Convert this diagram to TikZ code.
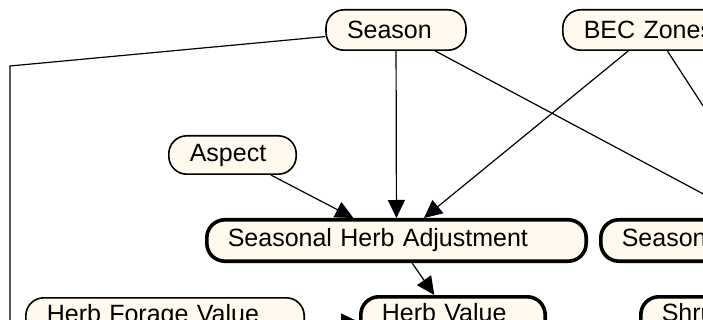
\documentclass[tikz,border=0pt]{standalone}
\usepackage{fontspec}
\setmainfont{Liberation Sans}
\usepackage{xcolor}
\usetikzlibrary{arrows.meta}
\definecolor{nodecream}{HTML}{FFF9EE}
\tikzset{
  varnode/.style={draw=black,fill=nodecream,rounded corners=18pt,line width=1.6pt,
    minimum height=40.4pt,inner xsep=21pt,inner ysep=0pt,align=left,
    font=\fontsize{25}{30}\selectfont},
  adjnode/.style={varnode,line width=3.6pt,minimum height=41.4pt},
  diredge/.style={-{Triangle[length=18pt,width=17pt]},line width=1.2pt,black},
  plainedge/.style={line width=1.2pt,black},
}

\begin{document}
\begin{tikzpicture}[x=1pt,y=-1pt]
  \useasboundingbox (0,0) rectangle (703,320);
  \clip (0,0) rectangle (703,320);
  \node[varnode,text width=98pt] (nSeason) at (396,30) {Season};
  \node[varnode,text width=140pt] (nBEC) at (653.8,30) {BEC Zones};
  \node[varnode,text width=85.4pt,minimum height=38.4pt] (nAspect) at (232.5,155) {Aspect};
  \node[adjnode,text width=337.4pt] (nSHA) at (396.5,240.5) {Seasonal Herb Adjustment};
  \node[adjnode,text width=337.4pt] (nSSA) at (790.5,240.5) {Seasonal Shrub Adjustment};
  \node[varnode,text width=236.4pt,minimum height=48.4pt,text depth=18pt] (nHFV) at (165,322) {Herb Forage Value};
  \node[adjnode,text width=142.4pt,minimum height=50.4pt,text depth=20pt] (nHV) at (453,322) {Herb Value};
  \node[adjnode,text width=145pt,minimum height=50.4pt,text depth=20pt] (nShV) at (734.3,322) {Shrub Value};
  \coordinate (cBend) at (10,66);
  \coordinate (cDown) at (10,360);
  \draw[plainedge] (nSeason) -- (cBend) -- (cDown);
  \draw[diredge] (nSeason) -- (nSHA);
  \draw[diredge] (nSeason) -- (nSSA);
  \draw[diredge] (nBEC) -- (nSHA);
  \draw[diredge] (nBEC) -- (nSSA);
  \draw[diredge] (nAspect) -- (nSHA);
  \draw[diredge] (nSHA) -- (nHV);
  \draw[diredge] (nHFV) -- (nHV);
\end{tikzpicture}
\end{document}
